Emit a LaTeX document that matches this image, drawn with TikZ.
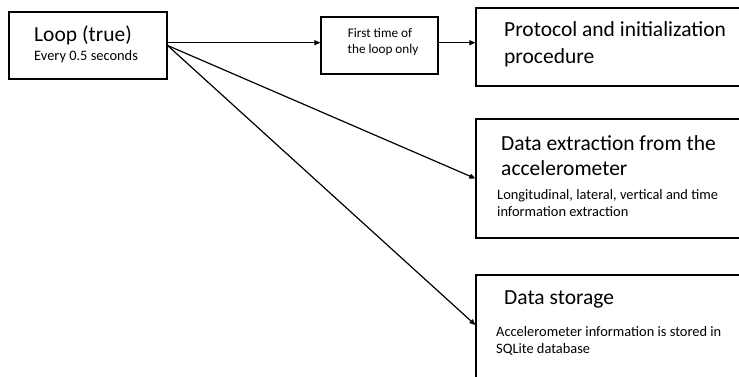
\documentclass[tikz,border=0pt]{standalone}
\usepackage{fontspec}
\setmainfont{Carlito}
\usetikzlibrary{arrows.meta}

\tikzset{
  box/.style={draw=black, line width=1.2pt, inner sep=0pt, fill=white},
  arr/.style={line width=1.2pt, -{Triangle[length=6pt,width=5pt]}},
  head/.style={anchor=base west, inner sep=0pt, font=\fontsize{21.5}{26}\selectfont},
  sub/.style={anchor=base west, inner sep=0pt, font=\fontsize{14.4}{17}\selectfont},
  small/.style={anchor=base, inner sep=0pt, font=\fontsize{13.2}{16}\selectfont},
}

\begin{document}
\begin{tikzpicture}[x=1pt,y=-1pt]
\useasboundingbox (0,0) rectangle (739,376);
\clip (0,0) rectangle (739,376);

% boxes (the three task boxes run off the right and bottom edge)
\node[box, minimum width=158pt, minimum height=67pt] (loop) at (88,45.5) {};
\node[box, minimum width=117pt, minimum height=57pt] (first) at (379.5,45.5) {};
\node[box, minimum width=284pt, minimum height=78pt] (proto) at (618,47) {};
\node[box, minimum width=284pt, minimum height=119pt] (extr) at (618,178.5) {};
\node[box, minimum width=284pt, minimum height=125pt] (stor) at (618,337.5) {};

% texts
\node[head] (loopT) at (34,41) {Loop (true)};
\node[sub]  (loopS) at (34,60) {Every 0.5 seconds};

\node[small] (firstA) at (380,37.3) {First time of};
\node[small] (firstB) at (383,53.3) {the loop only};

\node[head] (protoA) at (504,36.7) {Protocol and initialization};
\node[head] (protoB) at (504,63)   {procedure};

\node[head] (extrA) at (501,150.7) {Data extraction from the};
\node[head] (extrB) at (501,175)   {accelerometer};
\node[sub]  (extrC) at (497,199)   {Longitudinal, lateral, vertical and time};
\node[sub]  (extrD) at (497,216)   {information extraction};

\node[head] (storA) at (504,304) {Data storage};
\node[sub]  (storB) at (496,336) {Accelerometer information is stored in};
\node[sub]  (storC) at (496,353) {SQLite database};

% connectors
\draw[arr] ([yshift=2.8pt]loop.east) -- ([yshift=2.8pt]loop.east -| first.west);
\draw[arr] ([yshift=2.8pt]first.east) -- ([yshift=2.8pt]first.east -| proto.west);
\draw[arr] (loop.east) -- (extr.west);
\draw[arr] (loop.east) -- ([yshift=12.5pt]stor.west);
\end{tikzpicture}
\end{document}
